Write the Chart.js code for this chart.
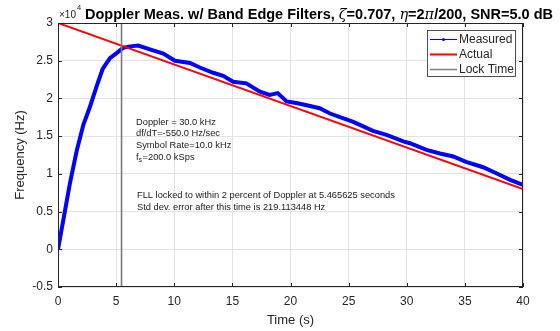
<!DOCTYPE html>
<html lang="en">
<head>
<meta charset="UTF-8">
<title>Doppler Meas. w/ Band Edge Filters</title>
<script src="https://cdn.jsdelivr.net/npm/chart.js"></script>
<style>
  html, body { margin: 0; padding: 0; background: #fff; }
  #wrap { width: 560px; height: 331px; }
</style>
</head>
<body>
<div id="wrap"><canvas id="dopplerChart" width="560" height="331"></canvas></div>
<script>
// time axis of the measured trace (s)
const timeSec = [0, 0.46, 1.03, 1.6, 2.18, 2.75, 3.32, 3.84, 4.47, 5.04, 5.6, 6.2, 6.9, 7.9, 9.06,
  10.06, 10.5, 11.35, 12.2, 13.35, 14.2, 15.07, 16.2, 17.37, 18.2, 18.9, 19.66, 20.5, 21.4, 22.5,
  23.4, 24.5, 25.4, 25.97, 27.1, 28.26, 29.7, 30.27, 31.7, 32.85, 34.0, 35.1, 36.57, 37.7, 38.9, 40];
// measured doppler (Hz)
const measuredHz = [0, 3900, 8760, 13000, 16500, 18900, 21600, 23900, 25350, 26000, 26700, 26900, 27000, 26500, 25950,
  25000, 24900, 24700, 24100, 23400, 23000, 22200, 22000, 20900, 20460, 20700, 19600, 19400, 19100, 18700,
  18000, 17400, 16900, 16500, 15700, 15160, 14300, 14060, 13170, 12700, 12300, 11600, 10880, 10080, 9200, 8530];
// actual doppler: 30 kHz falling at 550 Hz/s
const actualTime = [0, 40];
const actualHz = [30000, 8000];
const lockTime = 5.465625;
const lockRangeHz = [-5000, 30000];

const xTicks = [0, 5, 10, 15, 20, 25, 30, 35, 40];
const yTicks = [-5000, 0, 5000, 10000, 15000, 20000, 25000, 30000];

const infoLines = ['Doppler = 30.0 kHz', 'df/dT=-550.0 Hz/sec', 'Symbol Rate=10.0 kHz'];
const lockLines = ['FLL locked to within 2 percent of Doppler at 5.465625 seconds',
  'Std dev. error after this time is 219.113448 Hz'];

const TXT = '#262626';
const FONT = '"Liberation Sans", Arial, sans-serif';

// box, inward ticks, title, notes and legend, matlab style
const matlabDecor = {
  id: 'matlabDecor',
  afterDraw(chart) {
    const { ctx, chartArea: a, scales } = chart;
    ctx.save();
    // box
    ctx.strokeStyle = TXT;
    ctx.lineWidth = 1;
    ctx.strokeRect(Math.round(a.left) + 0.5, Math.round(a.top) + 0.5,
      Math.round(a.right - a.left) - 1, Math.round(a.bottom - a.top) - 1);
    // inward tick marks
    ctx.beginPath();
    xTicks.forEach(v => {
      const x = Math.round(scales.x.getPixelForValue(v)) + 0.5;
      ctx.moveTo(x, a.bottom); ctx.lineTo(x, a.bottom - 4);
      ctx.moveTo(x, a.top); ctx.lineTo(x, a.top + 4);
    });
    yTicks.forEach(v => {
      const y = Math.round(scales.y.getPixelForValue(v)) + 0.5;
      ctx.moveTo(a.left, y); ctx.lineTo(a.left + 4, y);
      ctx.moveTo(a.right, y); ctx.lineTo(a.right - 4, y);
    });
    ctx.stroke();

    // exponent label
    ctx.fillStyle = TXT;
    ctx.textBaseline = 'alphabetic';
    ctx.textAlign = 'left';
    ctx.font = '10px ' + FONT;
    ctx.fillText('\u00d710', 59, 18);
    const w10 = ctx.measureText('\u00d710').width;
    ctx.font = '7.5px ' + FONT;
    ctx.fillText('4', 59 + w10 + 1, 10);

    // title, mixed runs squeezed to the reference width
    const runs = [
      ['Doppler Meas. w/ Band Edge Filters, ', 'bold 14px ' + FONT],
      ['\u03b6', 'italic 14px "DejaVu Serif", serif'],
      ['=0.707, ', 'bold 14px ' + FONT],
      ['\u03b7', 'italic 14px "DejaVu Serif", serif'],
      ['=2', 'bold 14px ' + FONT],
      ['\u03c0', 'italic 14px "DejaVu Serif", serif'],
      ['/200, SNR=5.0 dB', 'bold 14px ' + FONT]
    ];
    let total = 0;
    runs.forEach(r => { ctx.font = r[1]; total += ctx.measureText(r[0]).width; });
    const sx = 468 / total;
    ctx.save();
    ctx.translate(85, 18.5);
    ctx.scale(sx, 1);
    let cx = 0;
    runs.forEach(r => {
      ctx.font = r[1];
      ctx.fillStyle = '#000';
      ctx.fillText(r[0], cx, 0);
      cx += ctx.measureText(r[0]).width;
    });
    ctx.restore();

    // parameter notes
    ctx.fillStyle = '#1a1a1a';
    ctx.textBaseline = 'middle';
    ctx.font = '9.3px ' + FONT;
    infoLines.forEach((t, i) => ctx.fillText(t, 136, 122 + i * 11.8));
    ctx.fillText('f', 136, 157.5);
    const fw = ctx.measureText('f').width;
    ctx.font = '7px ' + FONT;
    ctx.fillText('s', 136 + fw, 160.5);
    ctx.font = '9.3px ' + FONT;
    ctx.fillText('=200.0 kSps', 136 + fw + 4, 157.5);
    lockLines.forEach((t, i) => ctx.fillText(t, 137, 195 + i * 12.5));

    // legend
    const lx = 427, ly = 30, lw = 88, lh = 46;
    ctx.fillStyle = '#fff';
    ctx.fillRect(lx, ly, lw, lh);
    ctx.strokeStyle = TXT;
    ctx.lineWidth = 0.8;
    ctx.strokeRect(lx + 0.5, ly + 0.5, lw, lh);
    const items = [
      { label: 'Measured', color: '#0000ff', width: 1, dot: true },
      { label: 'Actual', color: '#ff0000', width: 2 },
      { label: 'Lock Time', color: '#808080', width: 1.5 }
    ];
    items.forEach((it, i) => {
      const y = 39.5 + i * 15;
      ctx.strokeStyle = it.color;
      ctx.lineWidth = it.width;
      ctx.beginPath();
      ctx.moveTo(430, y); ctx.lineTo(457, y);
      ctx.stroke();
      if (it.dot) {
        ctx.fillStyle = it.color;
        ctx.beginPath();
        ctx.arc(443.5, y, 1.5, 0, Math.PI * 2);
        ctx.fill();
      }
      ctx.fillStyle = TXT;
      ctx.font = '12px ' + FONT;
      ctx.textBaseline = 'middle';
      ctx.fillText(it.label, 459, y + 0.5);
    });
    ctx.restore();
  }
};

const ctx = document.getElementById('dopplerChart').getContext('2d');
new Chart(ctx, {
  type: 'line',
  data: {
    datasets: [
      {
        label: 'Measured',
        data: timeSec.map((t, i) => ({ x: t, y: measuredHz[i] })),
        borderColor: '#0000ff',
        borderWidth: 4,
        pointRadius: 0,
        order: 2
      },
      {
        label: 'Actual',
        data: actualTime.map((t, i) => ({ x: t, y: actualHz[i] })),
        borderColor: '#ff0000',
        borderWidth: 2,
        pointRadius: 0,
        order: 1
      },
      {
        label: 'Lock Time',
        data: lockRangeHz.map(v => ({ x: lockTime, y: v })),
        borderColor: '#7a7a7a',
        borderWidth: 1.6,
        pointRadius: 0,
        order: 0
      }
    ]
  },
  options: {
    responsive: false,
    animation: false,
    devicePixelRatio: 1,
    layout: { padding: { top: 23, right: 37, left: 0, bottom: 0 } },
    plugins: { legend: { display: false }, title: { display: false }, tooltip: { enabled: false } },
    scales: {
      x: {
        type: 'linear',
        min: 0,
        max: 40,
        afterBuildTicks: s => { s.ticks = xTicks.map(v => ({ value: v })); },
        afterFit: s => { s.height = 44; },
        grid: { color: '#e3e3e3', drawTicks: false },
        border: { display: false },
        ticks: { color: TXT, font: { family: FONT, size: 12 }, padding: 7, maxRotation: 0 },
        title: { display: true, text: 'Time (s)', color: TXT, font: { family: FONT, size: 13 }, padding: { top: 0, bottom: 3 } }
      },
      y: {
        type: 'linear',
        min: -5000,
        max: 30000,
        afterBuildTicks: s => { s.ticks = yTicks.map(v => ({ value: v })); },
        afterFit: s => { s.width = 58; },
        grid: { color: '#e3e3e3', drawTicks: false },
        border: { display: false },
        ticks: { color: TXT, font: { family: FONT, size: 12 }, padding: 5, callback: v => String(v / 1e4) },
        title: { display: true, text: 'Frequency (Hz)', color: TXT, font: { family: FONT, size: 13 }, padding: { top: 13, bottom: 0 } }
      }
    }
  },
  plugins: [matlabDecor]
});
</script>
</body>
</html>
